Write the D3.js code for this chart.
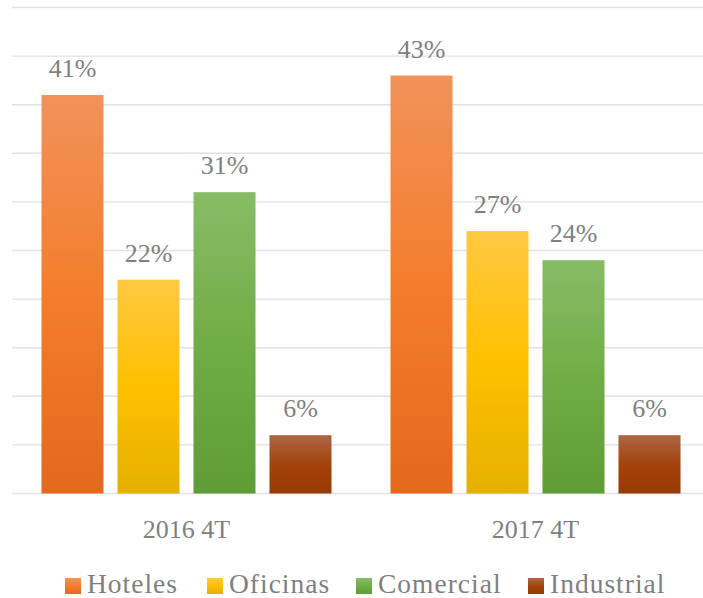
<!DOCTYPE html>
<html><head><meta charset="utf-8">
<script src="https://cdn.jsdelivr.net/npm/d3@7"></script>
<style>
html,body{margin:0;padding:0;background:#fff;}
svg{display:block;}
text{font-family:"Palatino Linotype","Book Antiqua",Palatino,"Liberation Serif",serif;fill:#7F7F7F;}
</style></head>
<body><svg id="c" width="703" height="598"></svg>
<script>
const groups = ["2016 4T", "2017 4T"];
const seriesNames = ["Hoteles", "Oficinas", "Comercial", "Industrial"];
const hoteles = [41, 43];
const oficinas = [22, 27];
const comercial = [31, 24];
const industrial = [6, 6];
const yTicks = [0, 5, 10, 15, 20, 25, 30, 35, 40, 45, 50];
const gradStops = [
  ["#F1925A", "#F47D2C", "#E4681D"],
  ["#FFC842", "#FFC000", "#E4B000"],
  ["#87BC66", "#71AD46", "#5E9C36"],
  ["#AE6645", "#A3440E", "#983900"]
];
const seriesValues = [hoteles, oficinas, comercial, industrial];

const svg = d3.select("#c");
const defs = svg.append("defs");
gradStops.forEach((s, i) => {
  const g = defs.append("linearGradient").attr("id", "g" + i)
    .attr("x1", 0).attr("y1", 0).attr("x2", 0).attr("y2", 1);
  g.append("stop").attr("offset", "0%").attr("stop-color", s[0]);
  g.append("stop").attr("offset", "50%").attr("stop-color", s[1]);
  g.append("stop").attr("offset", "100%").attr("stop-color", s[2]);
});

const y = d3.scaleLinear().domain([0, 50]).range([493.5, 7.5]);
const x0 = d3.scaleBand().domain(groups).range([12, 710]).padding(0);
const x1 = d3.scaleBand().domain(seriesNames).range([0, x0.bandwidth()])
  .paddingInner(0.184).paddingOuter(0.388);

// gridlines
svg.append("g").selectAll("line").data(yTicks).join("line")
  .attr("x1", 12).attr("x2", 710)
  .attr("y1", d => y(d)).attr("y2", d => y(d))
  .attr("stroke", "#DEE1E6").attr("stroke-width", 1.4);

// bars
const gG = svg.append("g").selectAll("g").data(groups).join("g")
  .attr("transform", d => `translate(${x0(d)},0)`);
gG.each(function (grp, gi) {
  const data = seriesNames.map((s, si) => ({ s, si, v: seriesValues[si][gi] }));
  const sel = d3.select(this);
  sel.selectAll("rect").data(data).join("rect")
    .attr("x", d => x1(d.s)).attr("width", x1.bandwidth())
    .attr("y", d => y(d.v)).attr("height", d => y(0) - y(d.v))
    .attr("fill", d => `url(#g${d.si})`);
  sel.selectAll("text").data(data).join("text")
    .attr("x", d => x1(d.s) + x1.bandwidth() / 2)
    .attr("y", d => y(d.v) - 18)
    .attr("text-anchor", "middle")
    .attr("font-size", 26)
    .text(d => d.v + "%");
});

// category axis labels
svg.append("g").selectAll("text").data(groups).join("text")
  .attr("x", d => x0(d) + x0.bandwidth() / 2)
  .attr("y", 538)
  .attr("text-anchor", "middle")
  .attr("font-size", 26)
  .text(d => d);

// legend
const legX = [65, 207, 356, 528];
const lg = svg.append("g").selectAll("g").data(seriesNames).join("g")
  .attr("transform", (d, i) => `translate(${legX[i]},0)`);
lg.append("rect").attr("x", 0).attr("y", 578).attr("width", 16).attr("height", 16)
  .attr("fill", (d, i) => `url(#g${i})`);
lg.append("text").attr("x", 22).attr("y", 593).attr("font-size", 27.5)
  .attr("letter-spacing", 1).text(d => d);
</script>
</body></html>
